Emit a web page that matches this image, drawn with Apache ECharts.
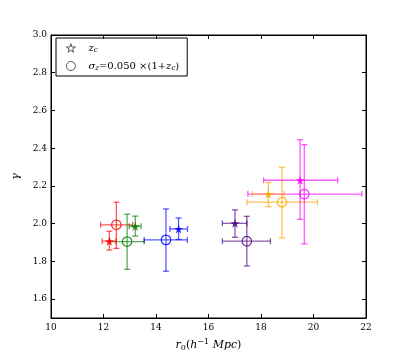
<!DOCTYPE html>
<html>
<head>
<meta charset="utf-8">
<script src="https://cdn.jsdelivr.net/npm/echarts@6/dist/echarts.min.js"></script>
<style>
  html, body { margin: 0; padding: 0; background: #fff; }
  #chart { width: 407px; height: 357px; }
</style>
</head>
<body>
<div id="chart"></div>
<script>
// one colour per sample, stars = z_c, circles = sigma_z
const colors = ['#ff0000', '#008000', '#0000ff', '#4b0082', '#ffa500', '#ff00ff']

const starX = [12.22, 13.21, 14.86, 17.01, 18.28, 19.49]
const starXLo = [11.95, 12.98, 14.53, 16.53, 17.67, 18.10]
const starXHi = [12.47, 13.43, 15.20, 17.46, 18.89, 20.92]
const starY = [1.907, 1.986, 1.972, 2.002, 2.157, 2.230]
const starYLo = [1.860, 1.934, 1.916, 1.928, 2.090, 2.023]
const starYHi = [1.960, 2.040, 2.030, 2.073, 2.218, 2.445]

const circX = [12.49, 12.90, 14.38, 17.46, 18.80, 19.65]
const circXLo = [11.89, 12.25, 13.55, 16.53, 17.46, 17.50]
const circXHi = [13.11, 13.55, 15.19, 18.36, 20.15, 21.84]
const circY = [1.994, 1.905, 1.914, 1.907, 2.114, 2.157]
const circYLo = [1.869, 1.758, 1.748, 1.776, 1.925, 1.893]
const circYHi = [2.114, 2.050, 2.078, 2.039, 2.299, 2.419]

const xTicks = [10, 12, 14, 16, 18, 20, 22]
const yTicks = [1.6, 1.8, 2.0, 2.2, 2.4, 2.6, 2.8, 3.0]

const starPath = 'path://M50,0 L61,35 L98,35 L68,57 L79,91 L50,70 L21,91 L32,57 L2,35 L39,35 Z'
const font = 'DejaVu Serif'

const errRows = (xs, xl, xh, ys, yl, yh) =>
  xs.map((x, i) => [x, ys[i], xl[i], xh[i], yl[i], yh[i], i])

const renderErr = (params, api) => {
  const c = colors[api.value(6)]
  const p = api.coord([api.value(0), api.value(1)])
  const l = api.coord([api.value(2), api.value(1)])
  const r = api.coord([api.value(3), api.value(1)])
  const b = api.coord([api.value(0), api.value(4)])
  const t = api.coord([api.value(0), api.value(5)])
  const st = { stroke: c, lineWidth: 1.3, opacity: 0.65 }
  const cap = 3
  const line = (x1, y1, x2, y2) => ({ type: 'line', shape: { x1, y1, x2, y2 }, style: st })
  return {
    type: 'group',
    children: [
      line(l[0], p[1], r[0], p[1]),
      line(p[0], b[1], p[0], t[1]),
      line(l[0], p[1] - cap, l[0], p[1] + cap),
      line(r[0], p[1] - cap, r[0], p[1] + cap),
      line(p[0] - cap, b[1], p[0] + cap, b[1]),
      line(p[0] - cap, t[1], p[0] + cap, t[1])
    ]
  }
}

const chart = echarts.init(document.getElementById('chart'))

const option = {
  animation: false,
  textStyle: { fontFamily: font },
  grid: { left: 51, right: 41, top: 35, bottom: 36, show: true, borderColor: '#000', borderWidth: 1 },
  legend: {
    orient: 'vertical',
    left: 56,
    top: 38,
    width: 107,
    padding: [5, 8, 4, 10],
    itemGap: 7,
    itemWidth: 9,
    itemHeight: 9,
    borderColor: '#000',
    borderWidth: 1,
    data: [
      { name: 'zc', icon: starPath, itemStyle: { color: '#fff', borderColor: '#000', borderWidth: 0.8 } },
      { name: 'sigma', icon: 'circle', itemStyle: { color: '#fff', borderColor: '#000', borderWidth: 0.8 } }
    ],
    formatter: name => name === 'zc'
      ? '{i|z}{s|c}'
      : '{i|σ}{s|z}{n|=0.050 ×(1+}{i|z}{s|c}{n|)}',
    textStyle: {
      padding: [0, 0, 0, 8],
      rich: {
        i: { fontFamily: font, fontStyle: 'italic', fontSize: 10, color: '#000' },
        n: { fontFamily: font, fontSize: 10, color: '#000' },
        s: { fontFamily: font, fontStyle: 'italic', fontSize: 7, color: '#000', padding: [5, 0, 0, 0] }
      }
    }
  },
  xAxis: [{
    type: 'value',
    min: 10,
    max: 22,
    interval: 2,
    splitLine: { show: false },
    axisLine: { lineStyle: { color: '#000' } },
    axisTick: { inside: true, length: 4, lineStyle: { color: '#000' }, customValues: xTicks },
    axisLabel: { color: '#000', fontSize: 9, margin: 5, customValues: xTicks },
    name: '{i|r}{s|0}{n|(}{i|h}{u|−1}{i| Mpc}{n|)}',
    nameLocation: 'middle',
    nameGap: 20,
    nameTextStyle: {
      rich: {
        i: { fontFamily: font, fontStyle: 'italic', fontSize: 11, color: '#000' },
        n: { fontFamily: font, fontSize: 11, color: '#000' },
        s: { fontFamily: font, fontSize: 8, color: '#000', padding: [6, 0, 0, 0] },
        u: { fontFamily: font, fontSize: 8, color: '#000', padding: [0, 0, 6, 0] }
      }
    }
  }, {
    type: 'value',
    position: 'top',
    min: 10,
    max: 22,
    interval: 2,
    splitLine: { show: false },
    axisLine: { lineStyle: { color: '#000' } },
    axisTick: { inside: true, length: 4, lineStyle: { color: '#000' }, customValues: xTicks },
    axisLabel: { show: false }
  }],
  yAxis: [{
    type: 'value',
    min: 1.5,
    max: 3.0,
    splitLine: { show: false },
    axisLine: { lineStyle: { color: '#000' } },
    axisTick: { inside: true, length: 4, lineStyle: { color: '#000' }, customValues: yTicks },
    axisLabel: { color: '#000', fontSize: 9, margin: 4, customValues: yTicks, formatter: v => v.toFixed(1) },
    name: 'γ',
    nameLocation: 'middle',
    nameGap: 22,
    nameRotate: 90,
    nameTextStyle: { fontFamily: font, fontStyle: 'italic', fontSize: 11, color: '#000' }
  }, {
    type: 'value',
    position: 'right',
    min: 1.5,
    max: 3.0,
    splitLine: { show: false },
    axisLine: { lineStyle: { color: '#000' } },
    axisTick: { inside: true, length: 4, lineStyle: { color: '#000' }, customValues: yTicks },
    axisLabel: { show: false }
  }],
  series: [
    {
      type: 'custom',
      renderItem: renderErr,
      data: errRows(circX, circXLo, circXHi, circY, circYLo, circYHi),
      z: 2
    },
    {
      type: 'custom',
      renderItem: renderErr,
      data: errRows(starX, starXLo, starXHi, starY, starYLo, starYHi),
      z: 2
    },
    {
      name: 'zc',
      type: 'scatter',
      symbol: starPath,
      symbolSize: 9,
      z: 3,
      data: starX.map((x, i) => ({ value: [x, starY[i]], itemStyle: { color: colors[i], opacity: 0.85 } }))
    },
    {
      name: 'sigma',
      type: 'scatter',
      symbol: 'circle',
      symbolSize: 9.5,
      z: 3,
      data: circX.map((x, i) => ({
        value: [x, circY[i]],
        itemStyle: { color: 'rgba(0,0,0,0)', borderColor: colors[i], borderWidth: 1.2, opacity: 0.85 }
      }))
    }
  ]
}

chart.setOption(option)
</script>
</body>
</html>
